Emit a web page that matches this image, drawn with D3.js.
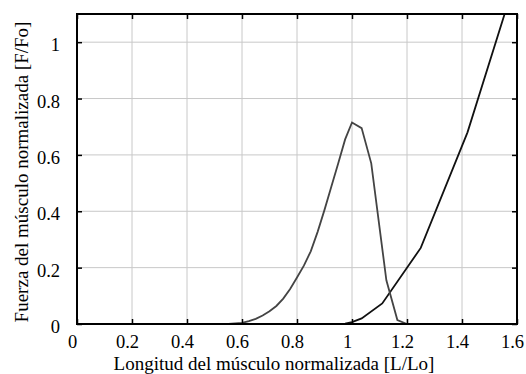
<!DOCTYPE html>
<html>
<head>
<meta charset="utf-8">
<script src="https://cdn.jsdelivr.net/npm/d3@7"></script>
<style>
  body { margin: 0; background: #fff; }
</style>
</head>
<body>
<div id="chart"></div>
<script>
// active force-length curve
const activeX = [0, 0.55, 0.6, 0.625, 0.65, 0.675, 0.7, 0.725, 0.75, 0.775, 0.8, 0.825, 0.85, 0.875, 0.9, 0.925, 0.95, 0.975, 1.0, 1.035, 1.07, 1.125, 1.165, 1.2];
const activeY = [0, 0, 0.004, 0.01, 0.018, 0.03, 0.045, 0.064, 0.09, 0.124, 0.165, 0.207, 0.258, 0.327, 0.405, 0.488, 0.57, 0.655, 0.715, 0.695, 0.57, 0.155, 0.014, 0];
// passive curve
const passiveX = [0, 0.95, 0.975, 1.0, 1.035, 1.11, 1.25, 1.42, 1.555, 1.6];
const passiveY = [0, 0, 0.001, 0.007, 0.02, 0.073, 0.27, 0.68, 1.1, 1.25];

const xTicks = [0, 0.2, 0.4, 0.6, 0.8, 1, 1.2, 1.4, 1.6];
const yTicks = [0, 0.2, 0.4, 0.6, 0.8, 1];

const FONT = 'Liberation Serif';

const w = 526, h = 374;
const m = { top: 14, right: 9, bottom: 50, left: 77 };
const iw = w - m.left - m.right, ih = h - m.top - m.bottom;

const svg = d3.select('#chart').append('svg')
  .attr('width', w).attr('height', h)
  .attr('font-family', FONT).attr('font-size', 19);

const x = d3.scaleLinear().domain([0, 1.6]).range([0, iw]);
const y = d3.scaleLinear().domain([0, 1.1]).range([ih, 0]);

const g = svg.append('g').attr('transform', `translate(${m.left},${m.top})`);

// grid
g.append('g').selectAll('line').data(xTicks).join('line')
  .attr('x1', d => x(d)).attr('x2', d => x(d))
  .attr('y1', 0).attr('y2', ih)
  .attr('stroke', '#c8c8c8').attr('stroke-width', 1);
g.append('g').selectAll('line').data(yTicks).join('line')
  .attr('x1', 0).attr('x2', iw)
  .attr('y1', d => y(d)).attr('y2', d => y(d))
  .attr('stroke', '#c8c8c8').attr('stroke-width', 1);

// curves
g.append('clipPath').attr('id', 'clip')
  .append('rect').attr('width', iw).attr('height', ih);

const line = d3.line().x(d => x(d[0])).y(d => y(d[1]));

g.append('path')
  .datum(passiveX.map((v, i) => [v, passiveY[i]]))
  .attr('clip-path', 'url(#clip)')
  .attr('d', line)
  .attr('fill', 'none').attr('stroke', '#111').attr('stroke-width', 1.8);

g.append('path')
  .datum(activeX.map((v, i) => [v, activeY[i]]))
  .attr('clip-path', 'url(#clip)')
  .attr('d', line)
  .attr('fill', 'none').attr('stroke', '#444').attr('stroke-width', 1.8);

// axes with inward ticks
const fmt = d => d3.format('')(d);
const xAxis = g.append('g').attr('transform', `translate(0,${ih})`)
  .call(d3.axisBottom(x).tickValues(xTicks).tickSize(-5).tickPadding(11).tickFormat(fmt));
const yAxis = g.append('g')
  .call(d3.axisLeft(y).tickValues(yTicks).tickSize(-5).tickPadding(17).tickFormat(fmt));
const topAxis = g.append('g')
  .call(d3.axisTop(x).tickValues(xTicks).tickSize(-5).tickFormat(''));
const rightAxis = g.append('g').attr('transform', `translate(${iw},0)`)
  .call(d3.axisRight(y).tickValues(yTicks).tickSize(-5).tickFormat(''));
[xAxis, yAxis, topAxis, rightAxis].forEach(a => a.attr('font-family', FONT).attr('font-size', 18.5));

xAxis.selectAll('.tick text').attr('dx', -5);
yAxis.selectAll('.tick text').attr('dy', '0.47em');

g.selectAll('.domain').remove();
g.selectAll('.tick line').attr('stroke', '#000').attr('stroke-width', 1.5);
g.selectAll('.tick text').attr('fill', '#000');

// frame
g.append('rect')
  .attr('width', iw).attr('height', ih)
  .attr('fill', 'none').attr('stroke', '#000').attr('stroke-width', 2);

// titles
svg.append('text')
  .attr('x', 274).attr('y', 370)
  .attr('text-anchor', 'middle')
  .text('Longitud del músculo normalizada [L/Lo]');

svg.append('text')
  .attr('transform', 'translate(28,172) rotate(-90)')
  .attr('text-anchor', 'middle')
  .text('Fuerza del músculo normalizada [F/Fo]');
</script>
</body>
</html>
